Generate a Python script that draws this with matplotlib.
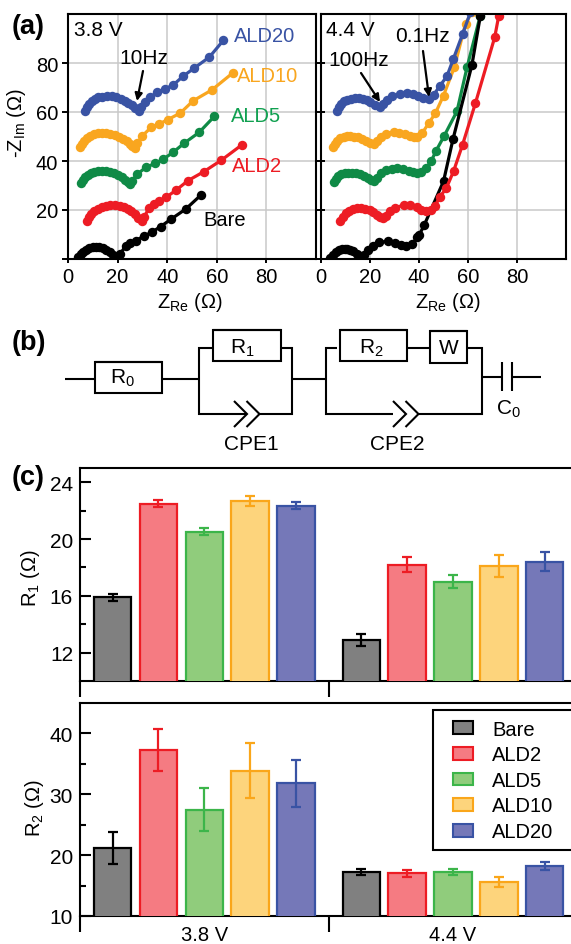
# plot.py - impedance spectra, equivalent circuit and fitted resistances
import matplotlib
matplotlib.use("Agg")
import matplotlib.pyplot as plt
from matplotlib.patches import Patch, Rectangle
from matplotlib.legend_handler import HandlerPatch

plt.rcParams['font.family'] = ['Liberation Sans', 'DejaVu Sans']
plt.rcParams['mathtext.fontset'] = 'custom'
plt.rcParams['mathtext.rm'] = 'Liberation Sans'
plt.rcParams['mathtext.default'] = 'regular'

W = 571; H = 945

# panel (a), 3.8 V
bare38_x = [4.2, 5.2, 6.2, 7.4, 8.6, 10, 11.2, 12.6, 14, 15.4, 16.8, 18, 19.2, 19.9, 21, 23.3, 25.2, 27.3, 30.5, 33.7, 37.3, 41.6, 47.5, 53.6]
bare38_y = [0.7, 2, 3, 3.8, 4.4, 4.8, 4.8, 4.7, 4.3, 3.6, 2.7, 1.8, 0.9, 0.3, 2, 5.4, 6.5, 7.5, 9.3, 10.9, 13.2, 16.3, 20.4, 26.1]
ald238_x = [7.6, 8.4, 9.4, 10.6, 12, 13.6, 15.2, 17.1, 19, 20.8, 22.4, 24, 25.6, 27, 28.4, 29.7, 30.6, 32.8, 34.5, 36.5, 39.6, 43.7, 48.4, 54.7, 61.8, 70]
ald238_y = [15.6, 17, 18.3, 19.5, 20.5, 21.3, 21.8, 22, 22, 21.8, 21.2, 20.4, 19.4, 18.2, 16.8, 15.6, 17, 21, 22.6, 23.7, 25.2, 28.2, 32, 35.6, 40.3, 46.5]
ald538_x = [5.2, 5.9, 6.8, 7.9, 9.2, 10.6, 12.1, 13.7, 15.4, 17, 18.6, 20.2, 21.6, 23, 24.2, 25, 25.8, 28, 31.4, 35.1, 38.5, 42.3, 46.9, 52.9, 59]
ald538_y = [31, 32.3, 33.4, 34.4, 35.2, 35.7, 35.9, 36, 36, 35.7, 35.2, 34.4, 33.5, 32.4, 31.4, 30.6, 32, 34.7, 37.4, 39, 40.8, 43.5, 47.3, 51.7, 58.2]
ald1038_x = [4.9, 5.6, 6.5, 7.6, 8.9, 10.4, 12, 13.7, 15.4, 17.1, 18.8, 20.4, 22, 23.6, 25, 26, 26.9, 28, 30, 33.5, 36.5, 40.3, 45.3, 50.5, 58, 66.4]
ald1038_y = [45.6, 47, 48.2, 49.4, 50.3, 51, 51.3, 51.4, 51.4, 51, 50.5, 49.8, 49, 48, 46.8, 46, 45.3, 47.4, 50.3, 53.7, 55, 56.9, 59.6, 64.6, 69, 75.9]
ald2038_x = [6.8, 7.5, 8.4, 9.5, 10.8, 12.2, 13.9, 15.8, 17.7, 19.5, 21.2, 22.8, 24.3, 25.7, 27.2, 28.6, 29.6, 31, 33, 36, 39, 42.4, 46.4, 51, 57, 62.7]
ald2038_y = [60.5, 62, 63.2, 64.4, 65.3, 66, 66.3, 66.4, 66.4, 66, 65.4, 64.6, 63.8, 62.8, 61.6, 60.5, 62, 64, 66, 68, 69.4, 71, 74.6, 78, 82.4, 89.3]

# panel (a), 4.4 V
bare44_x = [3.8, 4.8, 6, 7.2, 8.4, 9.6, 10.8, 12, 13.2, 14.6, 15.8, 16.7, 17.6, 19.2, 21.2, 23.5, 27.2, 30, 32.6, 34.8, 37.2, 39.2, 40.2, 42.2, 50, 53.9, 61.6, 65]
bare44_y = [0.3, 1.6, 2.8, 3.6, 4.1, 4.2, 4.1, 3.8, 3.2, 2.2, 1.4, 0.7, 1.6, 3.6, 5.4, 6.8, 7.2, 6.6, 5.8, 5.2, 6, 8.8, 10, 14, 31.7, 49, 79.2, 99]
ald244_x = [7.9, 8.8, 10, 11.4, 13, 14.6, 16.2, 18, 19.8, 21.4, 23, 24.2, 25.3, 26.6, 28, 30, 33.7, 36.4, 39, 41, 43, 45, 46.7, 48.4, 51.2, 54.1, 57.8, 63, 70.9, 72.5]
ald244_y = [15.6, 17.2, 18.6, 19.6, 20.3, 20.7, 20.8, 20.6, 20, 19.2, 18, 17.2, 16.7, 17.6, 19.4, 20.8, 22, 22, 21.2, 20.2, 19.7, 20.2, 21.8, 25.2, 29, 35.8, 46.7, 63.5, 90.5, 99]
ald544_x = [5.2, 6, 7, 8.2, 9.6, 11, 12.6, 14.4, 16, 17.6, 19.2, 20.6, 21.8, 23, 24.6, 26.6, 29, 31, 33.4, 35.8, 37.6, 39.2, 41, 43, 45, 47, 50.3, 55.5, 59.6, 65]
ald544_y = [31.3, 32.6, 33.7, 34.5, 35, 35.2, 35.3, 35.1, 34.6, 34, 33.2, 32.4, 32, 33, 35, 36.2, 36.8, 37.1, 36.8, 36, 35.4, 35.1, 35.6, 37.2, 40, 44.2, 50.3, 60.3, 78.2, 99.3]
ald1044_x = [4.8, 5.6, 6.6, 7.8, 9.2, 10.6, 12, 13.6, 15.2, 16.8, 18.4, 20, 21.8, 23, 24.6, 26.6, 29.6, 32, 34.2, 36.4, 38, 39.2, 41.4, 44, 46.7, 50, 54.4, 59, 61.8]
ald1044_y = [45.6, 47, 48.2, 49.2, 49.8, 50.2, 50.3, 50, 49.6, 49, 48.2, 47.5, 47, 48, 50, 51.2, 51.7, 51.6, 51, 50.4, 50, 49.9, 51.5, 55.5, 59.5, 66.7, 78.2, 96, 101]
ald2044_x = [6.5, 7.2, 8.2, 9.4, 10.8, 12.4, 14, 15.4, 17, 18.6, 20.2, 22, 24, 25.4, 27, 29, 32.4, 35, 37.4, 39.6, 41.6, 44, 46, 48.4, 51.4, 54, 57.8, 61]
ald2044_y = [60.5, 62, 63.4, 64.4, 65, 65.4, 65.6, 65.7, 65.4, 64.8, 64, 63, 61.9, 63.2, 65, 66.4, 67.3, 67.6, 67.2, 66.4, 65.7, 65.3, 67, 70.5, 74.6, 81.6, 91.8, 100.7]

# panel (c)
groups = ['3.8 V', '4.4 V']
samples = ['Bare', 'ALD2', 'ALD5', 'ALD10', 'ALD20']
r1_38 = [15.9, 22.5, 20.5, 22.65, 22.35]
r1_38_err = [0.25, 0.25, 0.25, 0.35, 0.25]
r1_44 = [12.9, 18.2, 17.0, 18.1, 18.4]
r1_44_err = [0.4, 0.55, 0.45, 0.8, 0.65]
r2_38 = [21.2, 37.3, 27.5, 33.9, 31.8]
r2_38_err = [2.6, 3.4, 3.5, 4.5, 3.9]
r2_44 = [17.3, 17.0, 17.3, 15.6, 18.2]
r2_44_err = [0.5, 0.6, 0.5, 0.8, 0.7]

line_colors = ['black', '#ed1c24', '#0f8a46', '#f9a61f', '#3953a4']
edge_colors = ['black', '#ed1c24', '#3cb54a', '#faa61a', '#3953a4']
fill_colors = ['#808080', '#f57b82', '#90cc7c', '#fdd47c', '#7578b8']


def px_axes(fig, left, top, right, bottom):
    return fig.add_axes([left / W, 1 - bottom / H, (right - left) / W, (bottom - top) / H])


fig = plt.figure(figsize=(W / 100, H / 100), dpi=100)

# ---- panel a
ax1 = px_axes(fig, 68, 15, 316, 260)
ax2 = px_axes(fig, 321, 15, 566, 260)
curves38 = [(bare38_x, bare38_y), (ald238_x, ald238_y), (ald538_x, ald538_y), (ald1038_x, ald1038_y), (ald2038_x, ald2038_y)]
curves44 = [(bare44_x, bare44_y), (ald244_x, ald244_y), (ald544_x, ald544_y), (ald1044_x, ald1044_y), (ald2044_x, ald2044_y)]
for ax, curves in [(ax1, curves38), (ax2, curves44)]:
    order = [0, 1, 2, 3, 4] if ax is ax1 else [3, 4, 2, 0, 1]
    for i in order:
        ax.plot(curves[i][0], curves[i][1], '-o', color=line_colors[i], lw=2.3, ms=6.8, mew=0)
    ax.set_xlim(0, 100)
    ax.set_ylim(0, 100)
    ax.set_xticks([0, 20, 40, 60, 80])
    ax.set_yticks([0, 20, 40, 60, 80])
    ax.grid(True, color='#c9c9c9', lw=1.1)
    ax.set_axisbelow(True)
    for s in ax.spines.values():
        s.set_linewidth(1.5)
    ax.tick_params(labelsize=14.5, width=1.4, length=3, pad=3)
ax1.tick_params(axis='y', pad=3, length=4)
ax1.yaxis.get_major_ticks()[0].label1.set_visible(False)
ax1.tick_params(axis='y', right=True, which='both')
ax2.tick_params(axis='y', direction='in', labelleft=False, length=3)

# ---- panel c
xa = [i for i in range(5)]
xb = [i + 5.43 for i in range(5)]
xc = [2, 7.43]
xdiv = [-0.714, 4.72]


def draw_bars(ax, vals_a, err_a, vals_b, err_b):
    for x, vals, errs in [(xa, vals_a, err_a), (xb, vals_b, err_b)]:
        for i in range(5):
            ax.bar(x[i], vals[i], width=0.82, color=fill_colors[i], edgecolor=edge_colors[i], lw=1.6, zorder=2)
            ax.errorbar(x[i], vals[i], yerr=errs[i], color=edge_colors[i], capsize=3.6, lw=1.6, capthick=1.6, zorder=3)
    ax.set_xlim(-0.714, 10.007)
    ax.spines['right'].set_visible(False)
    for s in ax.spines.values():
        s.set_linewidth(1.5)
        s.set_zorder(1)
    ax.set_xticks(xdiv)
    ax.set_xticklabels([])
    ax.tick_params(axis='x', length=11.5, width=1.5)
    ax.tick_params(axis='y', which='major', direction='in', length=8, width=1.5, labelsize=15, pad=5)
    ax.tick_params(axis='y', which='minor', direction='in', length=4.5, width=1.5)


ax3 = px_axes(fig, 80, 469, 571, 682)
draw_bars(ax3, r1_38, r1_38_err, r1_44, r1_44_err)
ax3.set_ylim(10, 25)
ax3.set_yticks([12, 16, 20, 24])
ax3.set_yticks([14, 18, 22], minor=True)

ax4 = px_axes(fig, 80, 704, 571, 917)
draw_bars(ax4, r2_38, r2_38_err, r2_44, r2_44_err)
ax4.set_ylim(10, 45)
ax4.set_yticks([10, 20, 30, 40])
ax4.set_yticks([15, 25, 35], minor=True)
ax4.set_xticks(xc, minor=True)
ax4.set_xticklabels(groups, minor=True)
ax4.tick_params(axis='x', which='minor', length=0, labelsize=14.5, pad=6.5)


def swatch(legend, orig_handle, xdescent, ydescent, width, height, fontsize):
    # small box, set in from the left of the handle area
    return Rectangle((0.55 * fontsize, -ydescent), fontsize, 0.62 * fontsize)


handles = [Patch(facecolor=fill_colors[i], edgecolor=edge_colors[i], lw=1.5) for i in range(5)]
leg = ax4.legend(handles, samples, loc='upper left', bbox_to_anchor=(353 / 491, 0.965, 150 / 491, 0), mode='expand',
                 fontsize=14.5, frameon=True, fancybox=False, framealpha=1, edgecolor='black',
                 handlelength=1.55, handleheight=0.62, labelspacing=0.33, handletextpad=0.95, borderpad=0.45,
                 borderaxespad=0, handler_map={Patch: HandlerPatch(patch_func=swatch)})
leg.get_frame().set_linewidth(1.5)

# ---- overlay in pixel coordinates: panel letters, annotations, circuit
ov = fig.add_axes([0, 0, 1, 1], zorder=10)
ov.set_xlim(0, W)
ov.set_ylim(H, 0)
ov.axis('off')


def label(x, y, s, size=14.5, **kw):
    kw.setdefault('ha', 'center')
    ov.text(x, y, s, fontsize=size, va='center', **kw)


label(12, 27, '(a)', 19.5, ha='left', fontweight='bold')
label(12, 343, '(b)', 19.5, ha='left', fontweight='bold')
label(12, 478, '(c)', 19.5, ha='left', fontweight='bold')

label(17, 123, r'-Z$_{Im}$ ($\Omega$)', rotation=90)
label(190, 303, r'Z$_{Re}$ ($\Omega$)')
label(448, 303, r'Z$_{Re}$ ($\Omega$)')
label(31, 578, r'R$_{1}$ ($\Omega$)', rotation=90)
label(35, 808, r'R$_{2}$ ($\Omega$)', rotation=90)

label(74, 30, '3.8 V', 15, ha='left')
label(326, 30, '4.4 V', 15, ha='left')
label(234, 37, 'ALD20', ha='left', color=line_colors[4])
label(237, 76, 'ALD10', ha='left', color=line_colors[3])
label(231, 117, 'ALD5', ha='left', color='#10a050')
label(232, 166, 'ALD2', ha='left', color=line_colors[1])
label(203, 221, 'Bare', ha='left')

arrow = dict(arrowstyle='-|>', color='black', lw=1.6, shrinkA=0, shrinkB=0, mutation_scale=11)
label(144, 58, '10Hz', 15)
ov.annotate('', xy=(137, 102), xytext=(143, 72), arrowprops=arrow)
label(359, 60, '100Hz', 15)
ov.annotate('', xy=(380, 103), xytext=(361, 74), arrowprops=arrow)
label(422, 37, '0.1Hz', 15)
ov.annotate('', xy=(429, 98), xytext=(423, 52), arrowprops=arrow)


def wire(xs, ys):
    ov.plot(xs, ys, color='black', lw=1.5, solid_joinstyle='miter', solid_capstyle='butt')


def box(x0, y0, x1, y1):
    wire([x0, x1, x1, x0, x0, x1], [y0, y0, y1, y1, y0, y0])


def chevrons(x, y):
    for dx in [0, 12.5]:
        wire([x + dx, x + dx + 13, x + dx], [y - 13, y, y + 13])


wire([65, 95.4], [380, 380])
box(95.4, 363, 162.4, 394)
wire([162.4, 198.5], [380, 380])
wire([213, 198.5, 198.5, 247], [349, 349, 415, 415])
box(213, 331, 281, 362)
wire([259, 292, 292, 281], [415, 415, 349, 349])
chevrons(234, 415)
wire([292, 326], [380, 380])
wire([337, 326, 326, 393], [349, 349, 415, 415])
box(340, 331, 407, 362)
wire([407, 430], [349, 349])
box(430, 332, 467, 364)
wire([467, 482, 482, 419], [349, 349, 415, 415])
chevrons(393, 415)
wire([482, 502], [378, 378])
wire([502, 502], [363, 392])
wire([512, 512], [363, 392])
wire([512, 541], [378, 378])

label(122, 378, r'R$_{0}$', 15)
label(242, 348, r'R$_{1}$', 15)
label(371, 348, r'R$_{2}$', 15)
label(449, 348, 'W', 15)
label(251, 444, 'CPE1', 15)
label(397, 444, 'CPE2', 15)
label(508, 409, r'C$_{0}$', 15)

fig.savefig('out.png', dpi=100)
